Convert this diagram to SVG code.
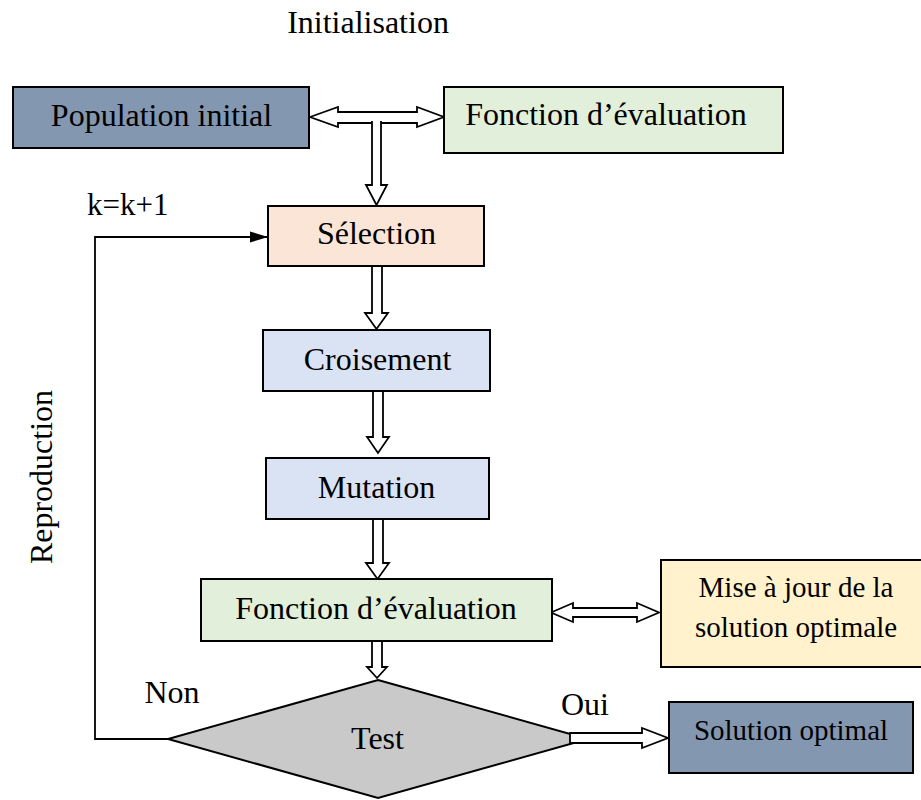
<svg xmlns="http://www.w3.org/2000/svg" width="921" height="800" viewBox="0 0 921 800">
<style>
text{font-family:"Liberation Serif","Times New Roman",serif;fill:#000;}
.t32{font-size:32px;text-anchor:middle;}
.t29{font-size:29px;text-anchor:middle;}
.box{stroke:#000;stroke-width:2;}
.ha{fill:#fff;stroke:#000;stroke-width:1.8;stroke-linejoin:miter;}
.ln{fill:none;stroke:#000;stroke-width:1.8;}
</style>
<defs>
<marker id="solid" markerWidth="18" markerHeight="12" refX="18" refY="6" orient="auto" markerUnits="userSpaceOnUse">
<path d="M0,0.5 L18,6 L0,11.5 Z" fill="#000"/>
</marker>
</defs>
<rect width="921" height="800" fill="#fff"/>
<text class="t32" x="368" y="33">Initialisation</text>
<text style="font-size:31px" x="87" y="215">k=k+1</text>
<text class="t32" transform="translate(52,477) rotate(-90)">Reproduction</text>
<text class="t32" x="172" y="703">Non</text>
<text class="t32" x="585" y="715">Oui</text>

<g id="connectors">
<path class="ha" d="M310,117 L338,107 V112 H417 V107 L444,117 L417,127 V123 H338 V127 Z"/>
<path class="ha" d="M372,121 V185 H366 L376.5,205 L387,185 H381 V121"/>
<path class="ha" d="M372,266 V313 H365 L376.5,329 L388,313 H382 V266"/>
<path class="ha" d="M373,391 V437 H367 L378,453 L389,437 H383 V391"/>
<path class="ha" d="M373,519 V563 H366 L377.5,579 L389,563 H383 V519"/>
<path class="ha" d="M372,641 V667 H367 L377,678 L387,667 H382 V641"/>
<path class="ha" d="M551,612.5 L573,603 V608 H637 V603 L659,612.5 L637,622 V617 H573 V622 Z"/>
<polyline class="ln" points="168,739 95,739 95,237 268,237" marker-end="url(#solid)"/>
</g>

<g id="population-initial">
<rect class="box" x="13" y="87" width="296" height="61" fill="#8497B0"/>
<text class="t32" x="161.5" y="126">Population initial</text>
</g>
<g id="fonction-evaluation-init">
<rect class="box" x="444" y="87" width="339" height="66" fill="#E2EFDA"/>
<text class="t32" x="606" y="125">Fonction d’évaluation</text>
</g>
<g id="selection">
<rect class="box" x="268" y="206" width="216" height="60" fill="#FBE5D6"/>
<text class="t32" x="376.5" y="244">Sélection</text>
</g>
<g id="croisement">
<rect class="box" x="263" y="330" width="227" height="61" fill="#DAE3F3"/>
<text class="t32" x="377.5" y="370">Croisement</text>
</g>
<g id="mutation">
<rect class="box" x="266" y="458" width="223" height="61" fill="#DAE3F3"/>
<text class="t32" x="376.5" y="498">Mutation</text>
</g>
<g id="fonction-evaluation">
<rect class="box" x="201" y="579" width="351" height="62" fill="#E2EFDA"/>
<text class="t32" x="376" y="619">Fonction d’évaluation</text>
</g>
<g id="mise-a-jour">
<rect class="box" x="661" y="560" width="264" height="107" fill="#FFF2CC"/>
<text class="t29" x="796" y="597">Mise à jour de la</text>
<text class="t29" x="796" y="637">solution optimale</text>
</g>
<g id="test">
<polygon class="box" points="378,680 588,739 378,798 168,739" fill="#C9C9C9"/>
<text class="t32" x="377.5" y="749">Test</text>
</g>
<g id="connector-oui">
<path class="ha" d="M570,733 H642 V728 L668,738 L642,748 V743 H570 Z"/>
</g>
<g id="solution-optimal">
<rect class="box" x="669" y="702" width="244" height="71" fill="#8497B0"/>
<text class="t29" x="791" y="740">Solution optimal</text>
</g>
</svg>
